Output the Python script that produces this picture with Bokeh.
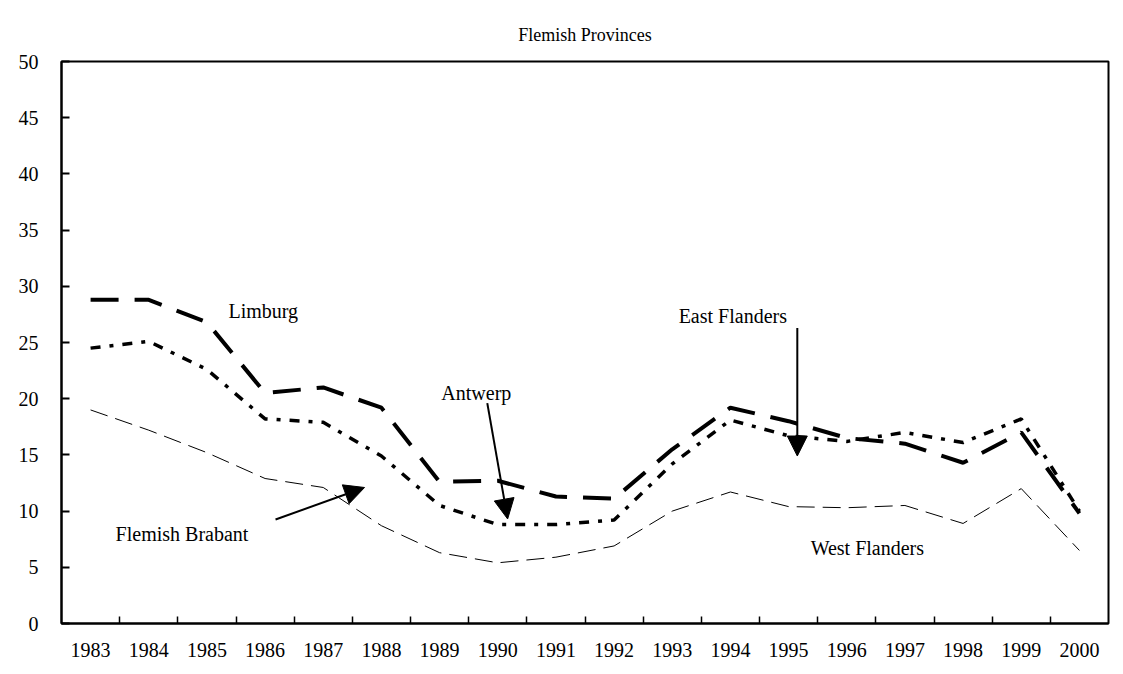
from bokeh.plotting import figure
from bokeh.models import FixedTicker, Label, Arrow, NormalHead
from bokeh.embed import file_html
from bokeh.resources import INLINE

years = list(range(1983, 2001))
limburg = [28.8, 28.8, 26.8, 20.5, 21.0, 19.2, 12.6, 12.7, 11.3, 11.1,
           15.5, 19.2, 18.0, 16.5, 16.0, 14.3, 17.0, 9.8]
antwerp = [24.5, 25.1, 22.6, 18.2, 17.9, 14.9, 10.5, 8.8, 8.8, 9.2,
           14.2, 18.1, 16.7, 16.2, 17.0, 16.1, 18.2, 10.0]
west_flanders = [19.0, 17.2, 15.2, 12.9, 12.1, 8.7, 6.3, 5.4, 5.9, 6.9,
                 10.0, 11.7, 10.4, 10.3, 10.5, 8.9, 12.0, 6.5]
y_ticks = list(range(0, 51, 5))
title_text = "Flemish Provinces"

FONT = "Liberation Serif"

p = figure(width=1116, height=668, x_range=(1982.5, 2000.5), y_range=(0, 50),
           output_backend="svg", toolbar_location=None,
           min_border_left=61, min_border_right=8, min_border_top=61,
           min_border_bottom=45)
p.xgrid.visible = False
p.ygrid.visible = False
p.outline_line_color = "black"
p.outline_line_width = 2
p.outline_line_alpha = 1.0
p.background_fill_color = "white"
p.border_fill_color = "white"

p.title.text = title_text
p.title.align = "center"
p.title.vertical_align = "bottom"
p.title.standoff = 34
p.title.text_font = FONT
p.title.text_font_size = "18px"
p.title.text_font_style = "normal"
p.title.text_color = "black"

xa = p.xaxis[0]
xa.ticker = FixedTicker(ticks=years, minor_ticks=[y + 0.5 for y in years[:-1]])
xa.major_tick_in = 0
xa.major_tick_out = 0
xa.minor_tick_in = 7
xa.minor_tick_out = 0
xa.minor_tick_line_width = 1.5
xa.minor_tick_line_color = "black"
xa.axis_line_width = 2
xa.axis_line_color = "black"
xa.major_label_text_font = FONT
xa.major_label_text_font_size = "20px"
xa.major_label_text_color = "black"
xa.major_label_standoff = 19

ya = p.yaxis[0]
ya.ticker = FixedTicker(ticks=y_ticks)
ya.major_tick_in = 8
ya.major_tick_out = 0
ya.major_tick_line_width = 2
ya.major_tick_line_color = "black"
ya.minor_tick_line_color = None
ya.axis_line_width = 2
ya.axis_line_color = "black"
ya.major_label_text_font = FONT
ya.major_label_text_font_size = "20px"
ya.major_label_text_color = "black"
ya.major_label_standoff = 23

p.line(years, limburg, line_color="black", line_width=4, line_dash="28 16")
p.line(years, antwerp, line_color="black", line_width=3.5, line_dash="10 9 4 9")
p.line(years, west_flanders, line_color="black", line_width=1, line_dash="18 8")

labels = [
    ("Limburg", 1985.37, 27.8),
    ("Antwerp", 1989.03, 20.5),
    ("East Flanders", 1993.11, 27.4),
    ("Flemish Brabant", 1983.43, 8.0),
    ("West Flanders", 1995.38, 6.7),
]
for txt, x, y in labels:
    p.add_layout(Label(x=x, y=y, text=txt, text_font=FONT, text_font_size="20px",
                       text_color="black", text_baseline="middle", text_align="left"))

arrows = [
    (1989.82, 19.6, 1990.17, 9.3),
    (1995.15, 26.3, 1995.15, 14.9),
    (1986.18, 9.25, 1987.71, 12.1),
]
for xs, ys, xe, ye in arrows:
    p.add_layout(Arrow(x_start=xs, y_start=ys, x_end=xe, y_end=ye,
                       line_color="black", line_width=2,
                       end=NormalHead(size=20, fill_color="black", line_color="black")))

open("out.html", "w").write(file_html(p, INLINE))
